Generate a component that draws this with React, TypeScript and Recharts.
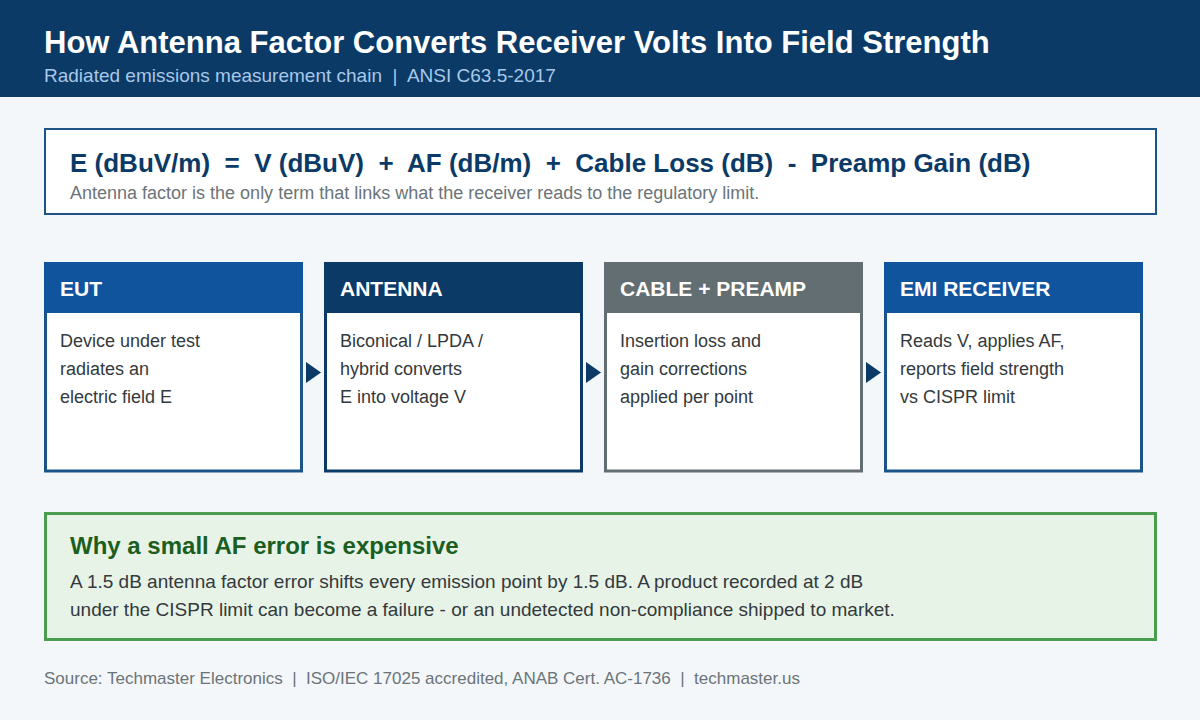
import { ComposedChart, ReferenceArea, ReferenceDot, Scatter, XAxis, YAxis } from "recharts";

const FONT = '"Liberation Sans", Arial, sans-serif';

const titleText = "How Antenna Factor Converts Receiver Volts Into Field Strength";
const subtitleText = "Radiated emissions measurement chain  |  ANSI C63.5-2017";
const formulaText = "E (dBuV/m)  =  V (dBuV)  +  AF (dB/m)  +  Cable Loss (dB)  -  Preamp Gain (dB)";
const formulaNote = "Antenna factor is the only term that links what the receiver reads to the regulatory limit.";

const stageNames = ["EUT", "ANTENNA", "CABLE + PREAMP", "EMI RECEIVER"];
const stageLines = [
  ["Device under test", "radiates an", "electric field E"],
  ["Biconical / LPDA /", "hybrid converts", "E into voltage V"],
  ["Insertion loss and", "gain corrections", "applied per point"],
  ["Reads V, applies AF,", "reports field strength", "vs CISPR limit"],
];
const headerColors = ["#11549e", "#0b3a66", "#636e72", "#11549e"];
const borderColors = ["#1c5488", "#0b3a66", "#636e72", "#1c5488"];

const calloutTitle = "Why a small AF error is expensive";
const calloutLines = [
  "A 1.5 dB antenna factor error shifts every emission point by 1.5 dB. A product recorded at 2 dB",
  "under the CISPR limit can become a failure - or an undetected non-compliance shipped to market.",
];
const sourceText = "Source: Techmaster Electronics  |  ISO/IEC 17025 accredited, ANAB Cert. AC-1736  |  techmaster.us";

const cardLeft = (i: number) => 44 + i * 280;
const arrowPoints = [0, 1, 2].map((i) => ({ x: cardLeft(i) + 269.5, y: 372.5 }));

const Arrow = ({ cx, cy }: any) => (
  <path d={`M${cx - 7.5} ${cy - 10.5}L${cx + 7.5} ${cy}L${cx - 7.5} ${cy + 10.5}Z`} fill="#0b3a66" />
);

// text placed through the chart scales
const label = (key: string, x: number, y: number, value: string, size: number, fill: string, weight = 400) => (
  <ReferenceDot
    key={key}
    x={x}
    y={y}
    r={0}
    shape={(p: any) => (
      <text x={p.cx} y={p.cy} fontFamily={FONT} fontSize={size} fontWeight={weight} fill={fill} style={{ whiteSpace: "pre" }}>
        {value}
      </text>
    )}
  />
);

const App = () => (
  <div style={{ width: 1200, height: 720, background: "#f4f7fa" }}>
    <style>{"body{margin:0}"}</style>
    <ComposedChart width={1200} height={720} margin={{ top: 0, right: 0, bottom: 0, left: 0 }} data={arrowPoints}>
      <XAxis type="number" dataKey="x" domain={[0, 1200]} hide />
      <YAxis type="number" dataKey="y" domain={[0, 720]} reversed hide />

      <ReferenceArea x1={0} x2={1200} y1={0} y2={97} fill="#0b3a66" fillOpacity={1} stroke="none" />
      {label("title", 44, 53, titleText, 31, "#ffffff", 700)}
      {label("subtitle", 44, 82, subtitleText, 19, "#a9c8e8")}

      <ReferenceArea x1={45} x2={1156} y1={129} y2={214} fill="#ffffff" fillOpacity={1} stroke="#1c5488" strokeWidth={2} />
      {label("formula", 70, 172, formulaText, 26, "#0b3a66", 700)}
      {label("note", 70, 199, formulaNote, 18, "#6b7478")}

      {stageNames.map((name, i) => (
        <ReferenceArea key={`card${i}`} x1={cardLeft(i) + 1.5} x2={cardLeft(i) + 257.5} y1={263.5} y2={471} fill="#ffffff" fillOpacity={1} stroke={borderColors[i]} strokeWidth={3} />
      ))}
      {stageNames.map((name, i) => (
        <ReferenceArea key={`head${i}`} x1={cardLeft(i)} x2={cardLeft(i) + 259} y1={262} y2={313} fill={headerColors[i]} fillOpacity={1} stroke="none" />
      ))}
      {stageNames.map((name, i) => label(`name${i}`, cardLeft(i) + 16, 296, name, 21, "#ffffff", 700))}
      {stageLines.map((lines, i) =>
        lines.map((line, j) => label(`line${i}-${j}`, cardLeft(i) + 16, 347 + j * 28, line, 18, "#33393c")),
      )}

      <Scatter data={arrowPoints} dataKey="y" shape={Arrow} isAnimationActive={false} />

      <ReferenceArea x1={45.5} x2={1155.5} y1={513.5} y2={639.5} fill="#e8f3e8" fillOpacity={1} stroke="#4a9d4e" strokeWidth={3} />
      {label("calloutTitle", 70, 554, calloutTitle, 24, "#1b5e20", 700)}
      {calloutLines.map((line, j) => label(`callout${j}`, 70, 588 + j * 28, line, 19, "#33393c"))}

      {label("source", 44, 684, sourceText, 17, "#6b7478")}
    </ComposedChart>
  </div>
);

export default App;
